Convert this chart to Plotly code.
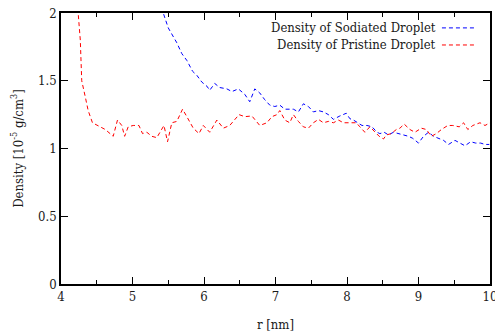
import plotly.graph_objects as go

# Pristine droplet (red)
r_pristine = [4.20, 4.24, 4.27, 4.29, 4.34, 4.38, 4.44, 4.52, 4.62, 4.73, 4.79, 4.85, 4.89, 4.94,
              5.01, 5.09, 5.14, 5.20, 5.27, 5.34, 5.44, 5.49, 5.55, 5.62, 5.70, 5.76, 5.85, 5.93,
              5.99, 6.08, 6.18, 6.27, 6.36, 6.49, 6.57, 6.67, 6.78, 6.88, 6.95, 7.02, 7.06, 7.13,
              7.20, 7.25, 7.32, 7.39, 7.46, 7.53, 7.60, 7.67, 7.74, 7.81, 7.88, 7.95, 8.02, 8.09,
              8.13, 8.18, 8.25, 8.32, 8.39, 8.45, 8.51, 8.55, 8.62, 8.69, 8.74, 8.80, 8.88, 8.95,
              9.04, 9.11, 9.18, 9.25, 9.32, 9.41, 9.48, 9.57, 9.63, 9.69, 9.76, 9.86, 9.93, 10.0]
d_pristine = [2.50, 2.00, 1.80, 1.50, 1.38, 1.28, 1.19, 1.17, 1.14, 1.09, 1.21, 1.17, 1.09, 1.16,
              1.17, 1.17, 1.11, 1.12, 1.09, 1.08, 1.17, 1.05, 1.19, 1.20, 1.29, 1.235, 1.15, 1.11,
              1.17, 1.12, 1.21, 1.15, 1.17, 1.25, 1.235, 1.24, 1.17, 1.19, 1.235, 1.25, 1.28, 1.21,
              1.19, 1.25, 1.20, 1.16, 1.15, 1.19, 1.215, 1.19, 1.20, 1.19, 1.21, 1.19, 1.19, 1.19,
              1.19, 1.16, 1.12, 1.16, 1.12, 1.09, 1.07, 1.10, 1.11, 1.14, 1.15, 1.18, 1.14, 1.12,
              1.15, 1.14, 1.09, 1.11, 1.14, 1.17, 1.17, 1.16, 1.19, 1.14, 1.17, 1.19, 1.17, 1.19]

# Sodiated droplet (blue)
r_sodiated = [5.38, 5.43, 5.50, 5.57, 5.62, 5.69, 5.76, 5.84, 5.90, 5.97, 6.04, 6.08, 6.15, 6.22,
              6.32, 6.39, 6.48, 6.57, 6.64, 6.71, 6.78, 6.85, 6.92, 6.99, 7.06, 7.13, 7.20, 7.25,
              7.32, 7.39, 7.46, 7.53, 7.60, 7.67, 7.74, 7.81, 7.90, 7.99, 8.04, 8.09, 8.15, 8.21,
              8.28, 8.35, 8.42, 8.46, 8.52, 8.58, 8.65, 8.72, 8.79, 8.86, 8.92, 9.00, 9.07, 9.14,
              9.21, 9.28, 9.35, 9.42, 9.51, 9.58, 9.65, 9.73, 9.80, 9.87, 9.93, 9.99]
d_sodiated = [2.30, 2.00, 1.89, 1.83, 1.78, 1.70, 1.65, 1.57, 1.54, 1.49, 1.46, 1.43, 1.48, 1.45,
              1.44, 1.42, 1.44, 1.40, 1.345, 1.44, 1.41, 1.36, 1.32, 1.31, 1.32, 1.29, 1.29, 1.29,
              1.27, 1.33, 1.31, 1.27, 1.28, 1.27, 1.25, 1.215, 1.24, 1.26, 1.22, 1.21, 1.19, 1.17,
              1.17, 1.16, 1.12, 1.11, 1.12, 1.10, 1.12, 1.11, 1.10, 1.09, 1.075, 1.04, 1.09, 1.12,
              1.09, 1.075, 1.06, 1.03, 1.06, 1.04, 1.02, 1.05, 1.04, 1.04, 1.03, 1.03]

x_ticks = [4, 5, 6, 7, 8, 9, 10]
y_ticks = [0, 0.5, 1, 1.5, 2]
y_tick_labels = ["0", "0.5", "1", "1.5", "2"]
legend_names = ["Density of Sodiated Droplet", "Density of Pristine Droplet"]
colors = ["#0000ff", "#ff0000"]

FONT = "DejaVu Serif Condensed, DejaVu Serif"
FS = 13
TXT = "#1a1a1a"
DASH = "4px,3px"

fig = go.Figure()
fig.add_trace(go.Scatter(x=r_sodiated, y=d_sodiated, mode="lines", name=legend_names[0],
                         line=dict(color=colors[0], width=1, dash=DASH)))
fig.add_trace(go.Scatter(x=r_pristine, y=d_pristine, mode="lines", name=legend_names[1],
                         line=dict(color=colors[1], width=1, dash=DASH)))

# gnuplot-style legend: text right-aligned, sample line to the right
legend_y = [0.945, 0.882]
for name, col, ly in zip(legend_names, colors, legend_y):
    fig.add_annotation(x=0.872, y=ly, xref="paper", yref="paper", text=name, showarrow=False,
                       xanchor="right", yanchor="middle", xshift=3,
                       font=dict(family=FONT, size=FS, color=TXT))
    fig.add_shape(type="line", xref="paper", yref="paper", x0=0.888, x1=0.967, y0=ly, y1=ly,
                  line=dict(color=col, width=1, dash=DASH))

axis_common = dict(showline=True, linecolor="black", linewidth=1.5, mirror="allticks",
                   ticks="inside", tickcolor="black", ticklen=7, tickwidth=1,
                   showgrid=False, zeroline=False, automargin=False,
                   tickfont=dict(family=FONT, size=FS, color=TXT))

fig.update_xaxes(range=[4, 10], tickvals=x_ticks, ticktext=[str(v) for v in x_ticks],
                 ticklabeloverflow="allow",
                 minor=dict(dtick=0.5, ticks="inside", ticklen=4, tickcolor="black", showgrid=False),
                 title=dict(text="r [nm]", font=dict(family=FONT, size=FS, color=TXT), standoff=17),
                 **axis_common)
fig.update_yaxes(range=[0, 2], tickvals=y_ticks, ticktext=y_tick_labels,
                 title=dict(text="Density [10<sup>-5</sup> g/cm<sup>3</sup>]",
                            font=dict(family=FONT, size=FS, color=TXT), standoff=12),
                 **axis_common)

fig.update_layout(width=495, height=333, margin=dict(l=61, r=5, t=13, b=49),
                  paper_bgcolor="white", plot_bgcolor="white", showlegend=False)

fig.write_html("out.html")
